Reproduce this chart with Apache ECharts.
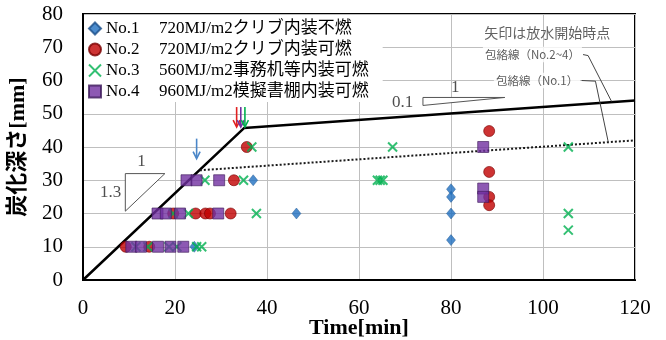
<!DOCTYPE html>
<html><head><meta charset="utf-8">
<script src="https://cdn.jsdelivr.net/npm/echarts@6/dist/echarts.min.js"></script>
<style>html,body{margin:0;padding:0;background:#fff}#c{width:666px;height:340px}</style>
</head><body><div id="c"></div>
<script>
// ---- data ----
const xTickMin = 0, xTickMax = 120, xTickStep = 20;
const yTickMin = 0, yTickMax = 80, yTickStep = 10;
const seriesNames = ['No.1', 'No.2', 'No.3', 'No.4'];
const seriesDesc = ['720MJ/m2クリブ内装不燃', '720MJ/m2クリブ内装可燃', '560MJ/m2事務机等内装可燃', '960MJ/m2模擬書棚内装可燃'];

const no1Time  = [24.2, 37.0, 46.4, 80.0, 80.0, 80.0, 80.0];
const no1Depth = [10,   30,   20,   27.3, 25,   20,   12];

const no2Time  = [9.3, 14.4, 19.6, 24.5, 26.6, 27.6, 32.1, 32.8, 35.6, 88.3, 88.3, 88.3, 88.3];
const no2Depth = [10,  10,   20,   20,   20,   20,   20,   30,   40,   44.8, 32.5, 25,   22.5];

const no3Time  = [11.5, 14.1, 18.7, 20.4, 24.7, 25.8, 19.6, 22.9, 37.7, 26.5, 34.9, 36.7, 67.3, 64.0, 64.6, 65.2, 105.5, 105.5, 105.5];
const no3Depth = [10,   10,   10,   10,   10,   10,   20,   20,   20,   30,   30,   40,   40,   30,   30,   30,   40,    20,    15];

const no4Time  = [10.5, 12.6, 16.3, 19.0, 21.8, 16.2, 18.0, 21.1, 29.4, 22.5, 24.7, 29.6, 87.0, 87.0, 87.0];
const no4Depth = [10,   10,   10,   10,   10,   20,   20,   20,   20,   30,   30,   30,   40,   27.5, 25];

// envelope lines
const envelopeTime  = [0, 35, 120];
const envelopeDepth = [0, 45.7, 54];
const envelopeNo1Time  = [25.4, 120];
const envelopeNo1Depth = [33, 42];

// water-start arrows (tip positions) and which series they belong to
const arrowTime   = [24.7, 33.4, 34.3, 35.2];
const arrowDepth  = [36.5, 46, 46, 46];
const arrowSeries = [0, 1, 3, 2];

// slope triangles
const triTime  = [[9.2, 9.2, 17.8], [73.9, 73.9, 91.7]];
const triDepth = [[20.7, 32, 32],   [52.5, 54.9, 54.9]];

// leader lines
const leader24Time = [108.7, 109.8, 114.9];
const leader24Depth = [67.8, 67.5, 53.7];
const leader1Time = [108.4, 111.4, 114.2];
const leader1Depth = [60, 59.8, 41.4];

// annotation texts
const noteTexts = ['矢印は放水開始時点', '包絡線（No.2~4）', '包絡線（No.1）', '1', '1.3', '0.1', '1'];
const noteTime  = [100.9, 97.7, 98.7, 12.7, 6.0, 69.5, 80.9];
const noteDepth = [74.5, 67.8, 60, 35.5, 26.2, 53.5, 58];

// ---- chart ----
const colors = ['#1f6fc0', '#c00000', '#00b050', '#7030a0'];
const arrowColors = ['#4a86c8', '#e02020', '#00b050', '#7030a0'];
const zip = (a, b) => a.map((v, i) => [v, b[i]]);
const serif = '"Liberation Serif","Times New Roman",serif';
const serifJP = '"Liberation Serif","Noto Sans CJK JP",serif';

const chart = echarts.init(document.getElementById('c'), null, {renderer: 'canvas'});

const noteStyles = [
  {fontFamily: '"Noto Sans CJK JP",sans-serif', fontSize: 14, color: '#3a3a3a'},
  {fontFamily: '"Noto Sans CJK JP",sans-serif', fontSize: 11.5, color: '#333', backgroundColor: '#fff', padding: [2, 2]},
  {fontFamily: '"Noto Sans CJK JP",sans-serif', fontSize: 11.5, color: '#333', backgroundColor: '#fff', padding: [2, 2]},
  {fontFamily: serif, fontSize: 17, color: '#222'},
  {fontFamily: serif, fontSize: 17, color: '#222'},
  {fontFamily: serif, fontSize: 17, color: '#222'},
  {fontFamily: serif, fontSize: 17, color: '#222'}
];

const option = {
  animation: false,
  grid: {left: 83, right: 31, top: 14, bottom: 60, show: true, borderColor: '#000', borderWidth: 2,
         backgroundColor: 'transparent', containLabel: false, outerBoundsMode: 'none'},
  xAxis: {
    type: 'value', min: xTickMin, max: xTickMax, interval: xTickStep,
    name: 'Time[min]', nameLocation: 'middle', nameGap: 37, nameMoveOverlap: false,
    nameTextStyle: {fontFamily: serif, fontWeight: 'bold', fontSize: 22, color: '#000'},
    axisLine: {lineStyle: {color: '#000', width: 2}},
    axisTick: {show: false},
    axisLabel: {fontFamily: serif, fontSize: 21, color: '#000', margin: 18},
    splitLine: {lineStyle: {color: '#bfbfbf', width: 1}}
  },
  yAxis: {
    type: 'value', min: yTickMin, max: yTickMax, interval: yTickStep,
    name: '炭化深さ[mm]', nameLocation: 'middle', nameGap: 54, nameRotate: 90, nameMoveOverlap: false,
    nameTextStyle: {fontFamily: serifJP, fontWeight: 'bold', fontSize: 22, color: '#000'},
    axisLine: {lineStyle: {color: '#000', width: 2}},
    axisTick: {show: false},
    axisLabel: {fontFamily: serif, fontSize: 21, color: '#000', margin: 20},
    splitLine: {lineStyle: {color: '#bfbfbf', width: 1}}
  },
  legend: {
    orient: 'vertical', left: 84, top: 15, padding: [5, 14, 2, 4],
    itemGap: 4, itemWidth: 12, itemHeight: 12,
    backgroundColor: '#fff', selectedMode: false,
    data: seriesNames,
    formatter: name => '{a|' + name + '}{b|' + seriesDesc[seriesNames.indexOf(name)] + '}',
    textStyle: {
      color: '#000',
      rich: {
        a: {width: 53, fontFamily: serif, fontSize: 17, lineHeight: 18, color: '#000'},
        b: {fontFamily: serifJP, fontSize: 17, lineHeight: 18, color: '#000'}
      }
    }
  },
  series: [
    {type: 'line', data: zip(envelopeTime, envelopeDepth), symbol: 'none', silent: true, z: 1,
     lineStyle: {color: '#000', width: 2.5}},
    {type: 'line', data: zip(envelopeNo1Time, envelopeNo1Depth), symbol: 'none', silent: true, z: 1,
     lineStyle: {color: '#1a1a1a', width: 2, type: [2, 2]}},
    {type: 'line', data: zip(leader24Time, leader24Depth), symbol: 'none', silent: true, z: 1,
     lineStyle: {color: '#444', width: 1}},
    {type: 'line', data: zip(leader1Time, leader1Depth), symbol: 'none', silent: true, z: 1,
     lineStyle: {color: '#444', width: 1}},
    {type: 'custom', silent: true, z: 1,
     data: triTime.map((t, i) => [t[0], triDepth[i][0], i]),
     renderItem: (params, api) => {
       const i = api.value(2);
       const pts = triTime[i].map((t, k) => api.coord([t, triDepth[i][k]]));
       return {type: 'polygon', shape: {points: pts}, style: {fill: '#fff', stroke: '#555', lineWidth: 1}};
     }},
    {name: 'No.1', type: 'scatter', data: zip(no1Time, no1Depth), symbol: 'diamond', symbolSize: [9, 11], z: 3,
     itemStyle: {color: colors[0], borderColor: '#1a4f8a', borderWidth: 0.5}},
    {name: 'No.2', type: 'scatter', data: zip(no2Time, no2Depth), symbol: 'circle', symbolSize: 11, z: 3,
     itemStyle: {color: colors[1], borderColor: '#7a0000', borderWidth: 0.8}},
    {name: 'No.3', type: 'scatter', data: zip(no3Time, no3Depth), symbol: 'path://M0,0L10,10M10,0L0,10', symbolSize: 9, z: 3,
     itemStyle: {color: colors[2], borderColor: colors[2], borderWidth: 2}},
    {name: 'No.4', type: 'scatter', data: zip(no4Time, no4Depth), symbol: 'rect', symbolSize: 11, z: 3,
     itemStyle: {color: colors[3], borderColor: '#3d1a5a', borderWidth: 0.8}},
    {type: 'custom', silent: true, z: 4,
     data: arrowTime.map((t, i) => [t, arrowDepth[i], arrowSeries[i]]),
     renderItem: (params, api) => {
       const p = api.coord([api.value(0), api.value(1)]);
       const c = arrowColors[api.value(2)];
       return {type: 'group', children: [
         {type: 'line', shape: {x1: p[0], y1: p[1] - 20, x2: p[0], y2: p[1] - 1}, style: {stroke: c, lineWidth: 1.6}},
         {type: 'polyline', shape: {points: [[p[0] - 3.5, p[1] - 7], [p[0], p[1]], [p[0] + 3.5, p[1] - 7]]}, style: {stroke: c, lineWidth: 1.6, fill: null}}
       ]};
     }},
    {type: 'scatter', silent: true, symbolSize: 0, z: 5,
     data: noteTexts.map((txt, i) => ({
       value: [noteTime[i], noteDepth[i]],
       label: Object.assign({show: true, position: 'inside', formatter: () => txt}, noteStyles[i])
     }))}
  ]
};
chart.setOption(option);
</script>
</body></html>
